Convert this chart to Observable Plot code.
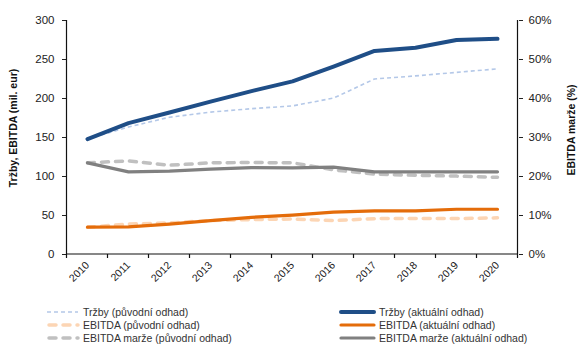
<!DOCTYPE html>
<html>
<head>
<meta charset="utf-8">
<script src="https://cdn.jsdelivr.net/npm/d3@7"></script>
<script src="https://cdn.jsdelivr.net/npm/@observablehq/plot@0.6"></script>
<style>
  body { margin: 0; background: white; font-family: "Liberation Sans", Arial, sans-serif; }
  #wrap { position: relative; width: 584px; height: 345px; }
  #legend { position: relative; width: 584px; height: 50px; font-size: 10.5px; color: #333; }
  .item { position: absolute; display: flex; align-items: center; height: 12px; white-space: nowrap; }
  .item svg { display: block; margin-right: 3px; }
</style>
</head>
<body>
<div id="wrap"><div id="chart"></div><div id="legend"></div></div>
<script>
const years = ["2010","2011","2012","2013","2014","2015","2016","2017","2018","2019","2020"];
const trzbyPuvodni   = [148, 163.5, 176, 182.5, 187, 190.5, 200.5, 225, 229, 233.5, 238];
const trzbyAktualni  = [148, 168.5, 182, 196, 209.5, 222, 241, 261, 265, 275, 276.5];
const ebitdaPuvodni  = [35, 39, 40.5, 43.5, 44.8, 45.5, 43.5, 46, 46, 46, 47];
const ebitdaAktualni = [35, 35.3, 39, 43.5, 47.7, 50.5, 54.4, 56, 56, 58, 58];
const marzePuvodni   = [23.5, 24.0, 22.9, 23.5, 23.6, 23.5, 21.7, 20.6, 20.3, 20.1, 19.8];
const marzeAktualni  = [23.5, 21.2, 21.4, 21.9, 22.3, 22.2, 22.4, 21.2, 21.2, 21.2, 21.2];
const leftTicks = [0, 50, 100, 150, 200, 250, 300];
const rightTicks = [0, 10, 20, 30, 40, 50, 60];
const pctFactor = 300 / 60;

const series = [
  {name: "Tržby (původní odhad)", values: trzbyPuvodni, pct: false, color: "#b4c8e8", width: 1.6, dash: "4,3", cap: "butt", col: 0, row: 0},
  {name: "EBITDA (původní odhad)", values: ebitdaPuvodni, pct: false, color: "#fcd5b4", width: 3.5, dash: "7,7", cap: "round", col: 0, row: 1},
  {name: "EBITDA marže (původní odhad)", values: marzePuvodni, pct: true, color: "#c0c0c0", width: 3.5, dash: "7,7", cap: "round", col: 0, row: 2},
  {name: "Tržby (aktuální odhad)", values: trzbyAktualni, pct: false, color: "#1f4e87", width: 4, dash: null, cap: "round", col: 1, row: 0},
  {name: "EBITDA (aktuální odhad)", values: ebitdaAktualni, pct: false, color: "#e46c0a", width: 3.2, dash: null, cap: "round", col: 1, row: 1},
  {name: "EBITDA marže (aktuální odhad)", values: marzeAktualni, pct: true, color: "#808080", width: 3.2, dash: null, cap: "round", col: 1, row: 2}
];

const drawOrder = [2, 5, 1, 4, 0, 3];

const lineMarks = drawOrder.map(i => {
  const s = series[i];
  const data = years.map((y, j) => ({year: y, v: s.pct ? s.values[j] * pctFactor : s.values[j]}));
  return Plot.line(data, {
    x: "year", y: "v", stroke: s.color, strokeWidth: s.width,
    strokeDasharray: s.dash || undefined, strokeLinecap: s.cap, strokeLinejoin: "round"
  });
});

const plot = Plot.plot({
  width: 584, height: 295,
  marginLeft: 66, marginRight: 66, marginTop: 20, marginBottom: 41,
  x: {type: "point", domain: years, padding: 0.5},
  y: {domain: [0, 300]},
  style: {fontFamily: "'Liberation Sans', Arial, sans-serif", fontSize: "11px", color: "#222", background: "white"},
  marks: [
    Plot.axisY(leftTicks, {anchor: "left", tickSize: 4, tickPadding: 8, label: null, stroke: "#222", fontSize: 11.5}),
    Plot.axisY(rightTicks.map(t => t * pctFactor), {anchor: "right", tickSize: 4, tickPadding: 6, label: null, tickFormat: d => (d / pctFactor) + "%", stroke: "#222", fontSize: 11.5}),
    Plot.axisX({anchor: "bottom", tickSize: 0, tickPadding: 9, tickRotate: -45, label: null, fontSize: 10.5}),
    ...lineMarks
  ]
});
document.getElementById("chart").appendChild(plot);

// axis frame lines and between-category tick marks, from Plot's scales
const svg = d3.select(plot);
const xs = plot.scale("x"), ys = plot.scale("y");
const step = xs.apply(years[1]) - xs.apply(years[0]);
const x0 = xs.apply(years[0]) - step / 2;
const x1 = xs.apply(years[years.length - 1]) + step / 2;
const yb = ys.apply(0), yt = ys.apply(300);
const g = svg.append("g").attr("stroke", "#111").attr("stroke-width", 1.2);
g.append("line").attr("x1", x0).attr("x2", x0).attr("y1", yt).attr("y2", yb);
g.append("line").attr("x1", x1).attr("x2", x1).attr("y1", yt).attr("y2", yb);
g.append("line").attr("x1", x0).attr("x2", x1).attr("y1", yb).attr("y2", yb);
const bounds = years.map(y => xs.apply(y) - step / 2).concat([x1]);
g.selectAll(".bt").data(bounds).join("line")
  .attr("x1", d => d).attr("x2", d => d).attr("y1", yb).attr("y2", yb + 4);

svg.append("text").attr("transform", "translate(14,128) rotate(-90)")
  .attr("text-anchor", "middle").attr("dominant-baseline", "middle")
  .attr("font-weight", "bold").attr("font-size", "10.5px").attr("fill", "#111")
  .text("Tržby, EBITDA (mil. eur)");
svg.append("text").attr("transform", "translate(572,130) rotate(-90)")
  .attr("text-anchor", "middle").attr("dominant-baseline", "middle")
  .attr("font-weight", "bold").attr("font-size", "10.5px").attr("fill", "#111")
  .text("EBITDA marže (%)");

// legend
const legend = document.getElementById("legend");
const colX = [47, 339], swW = [33, 37], rowY = [17, 30, 43];
series.forEach(s => {
  const div = document.createElement("div");
  div.className = "item";
  div.style.left = colX[s.col] + "px";
  div.style.top = (rowY[s.row] - 6) + "px";
  const w = swW[s.col];
  div.innerHTML = `<svg width="${w}" height="12"><line x1="${s.cap === 'round' ? 2 : 0}" x2="${w - 2}" y1="6" y2="6" stroke="${s.color}" stroke-width="${s.width}" ${s.dash ? `stroke-dasharray="${s.dash}"` : ""} stroke-linecap="${s.cap}"/></svg><span>${s.name}</span>`;
  legend.appendChild(div);
});
</script>
</body>
</html>
